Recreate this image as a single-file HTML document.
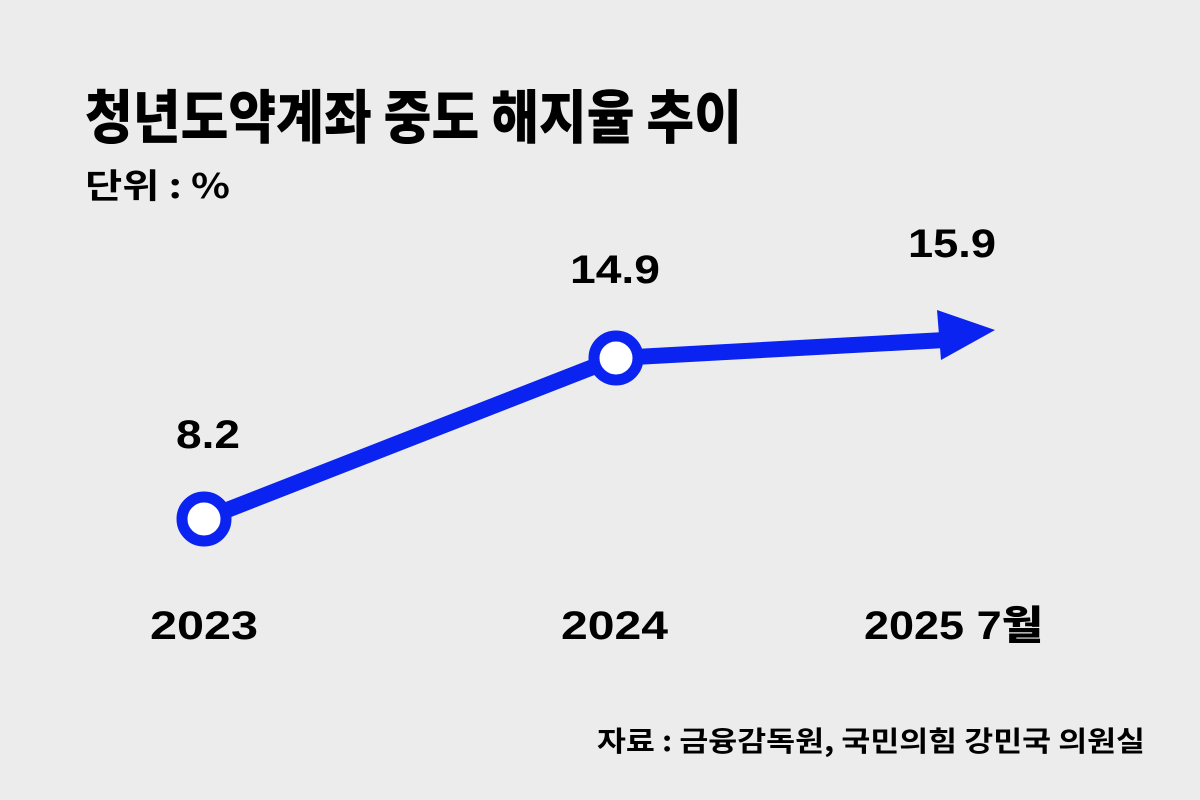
<!DOCTYPE html>
<html><head><meta charset="utf-8"><style>
html,body{margin:0;padding:0;background:#ececec;}
svg{display:block}
text{font-family:"Liberation Sans","Noto Sans CJK KR",sans-serif;fill:#000;font-weight:900}
</style></head><body>
<svg width="1200" height="800" viewBox="0 0 1200 800">
<rect width="1200" height="800" fill="#ececec"/>
<text x="85" y="138" font-size="58" textLength="657" lengthAdjust="spacingAndGlyphs" style="font-family:'Noto Sans CJK KR',sans-serif">청년도약계좌 중도 해지율 추이</text>
<text x="85" y="198" font-size="34" textLength="145" lengthAdjust="spacingAndGlyphs" style="font-family:'Noto Sans CJK KR',sans-serif;font-weight:700">단위 : %</text>
<g font-size="40" font-weight="700">
<text x="176" y="448" textLength="64" lengthAdjust="spacingAndGlyphs">8.2</text>
<text x="570" y="283" textLength="90" lengthAdjust="spacingAndGlyphs">14.9</text>
<text x="908" y="257" textLength="88" lengthAdjust="spacingAndGlyphs">15.9</text>
<text x="150" y="639" textLength="108" lengthAdjust="spacingAndGlyphs">2023</text>
<text x="561" y="639" textLength="107" lengthAdjust="spacingAndGlyphs">2024</text>
<text x="864" y="639" textLength="179" lengthAdjust="spacingAndGlyphs">2025 7<tspan style="font-family:'Noto Sans CJK KR',sans-serif">월</tspan></text>
</g>
<polyline points="204,519 616,358 945,340" fill="none" stroke="#0a23f0" stroke-width="16"/>
<polygon points="937,310 995,330 941,360" fill="#0a23f0"/>
<circle cx="204" cy="519" r="22" fill="#fff" stroke="#0a23f0" stroke-width="11"/>
<circle cx="616" cy="358" r="22" fill="#fff" stroke="#0a23f0" stroke-width="11"/>
<text x="1145" y="751" font-size="28" text-anchor="end" textLength="548" lengthAdjust="spacingAndGlyphs" style="font-family:'Noto Sans CJK KR',sans-serif;font-weight:700">자료 : 금융감독원, 국민의힘 강민국 의원실</text>
</svg>
</body></html>
